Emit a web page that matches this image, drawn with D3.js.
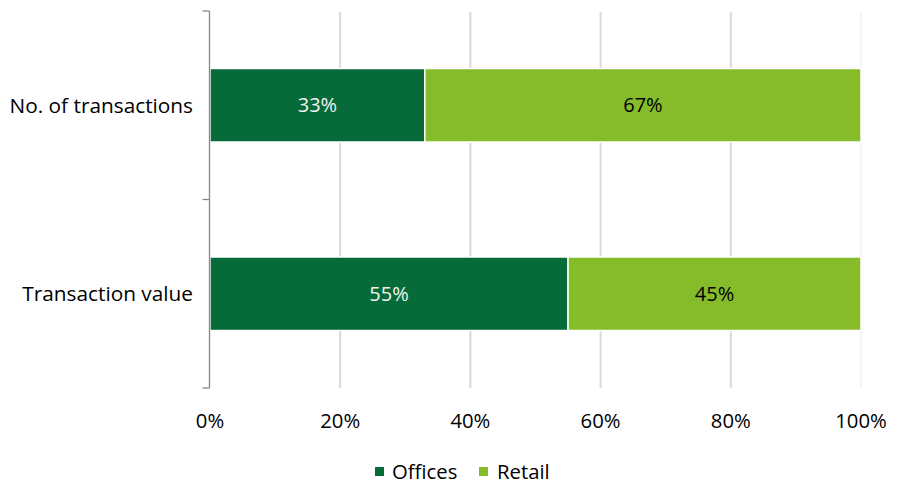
<!DOCTYPE html>
<html><head><meta charset="utf-8">
<script src="https://cdn.jsdelivr.net/npm/d3@7"></script>
<style>
body{margin:0;background:#fff;}
svg text{font-family:"Open Sans",sans-serif;}
</style></head>
<body><svg id="c" width="905" height="485"></svg>
<script>
const categories = ["No. of transactions", "Transaction value"];
const offices = [33, 55];
const retail = [67, 45];
const seriesNames = ["Offices", "Retail"];
const seriesColors = ["#076b39", "#86bc29"];
const labelColors = ["#f2f2f2", "#000000"];
const xTicks = [0, 20, 40, 60, 80, 100];

const svg = d3.select("#c");
const x = d3.scaleLinear().domain([0, 100]).range([210, 861]);
const y = d3.scaleBand().domain(categories).range([11, 388]).padding(0);
const barH = y.bandwidth() * 0.39;

// gridlines
svg.append("g").selectAll("line").data(xTicks.slice(1)).join("line")
  .attr("x1", d => x(d)).attr("x2", d => x(d))
  .attr("y1", 12).attr("y2", 388)
  .attr("stroke", "#d9d9d9").attr("stroke-width", 2)
  .attr("stroke-opacity", d => d === 100 ? 0.25 : 1);

// stacked data
const rows = categories.map((c, i) => ({cat: c, vals: [offices[i], retail[i]]}));
const segs = [];
rows.forEach(r => {
  let acc = 0;
  r.vals.forEach((v, k) => { segs.push({cat: r.cat, k, x0: acc, x1: acc + v, v}); acc += v; });
});

svg.append("g").selectAll("rect").data(segs).join("rect")
  .attr("x", d => x(d.x0)).attr("width", d => x(d.x1) - x(d.x0))
  .attr("y", d => y(d.cat) + y.bandwidth() / 2 - barH / 2).attr("height", barH)
  .attr("fill", d => seriesColors[d.k])
  .attr("stroke", "#ffffff").attr("stroke-width", 1.5);

svg.append("g").selectAll("text").data(segs).join("text")
  .attr("x", d => (x(d.x0) + x(d.x1)) / 2)
  .attr("y", d => y(d.cat) + y.bandwidth() / 2)
  .attr("dy", "0.35em").attr("text-anchor", "middle")
  .attr("font-size", 20).attr("fill", d => labelColors[d.k])
  .text(d => d.v + "%");

// y axis line and ticks
const yAxisX = 209.5;
svg.append("line").attr("x1", yAxisX).attr("x2", yAxisX).attr("y1", y.range()[0]).attr("y2", y.range()[1])
  .attr("stroke", "#868686").attr("stroke-width", 1.3);
const boundaries = categories.map(c => y(c)).concat([y.range()[1]]);
svg.append("g").selectAll("line").data(boundaries).join("line")
  .attr("x1", yAxisX - 7).attr("x2", yAxisX).attr("y1", d => d).attr("y2", d => d)
  .attr("stroke", "#868686").attr("stroke-width", 1.3);

// category labels
svg.append("g").selectAll("text").data(categories).join("text")
  .attr("x", 193).attr("y", d => y(d) + y.bandwidth() / 2)
  .attr("dy", "0.35em").attr("text-anchor", "end")
  .attr("font-size", 20.8).attr("fill", "#000")
  .text(d => d);

// x tick labels
svg.append("g").selectAll("text").data(xTicks).join("text")
  .attr("x", d => x(d)).attr("y", 428)
  .attr("text-anchor", "middle").attr("font-size", 20.3).attr("fill", "#000")
  .text(d => d + "%");

// legend
const leg = [{n: seriesNames[0], c: seriesColors[0], sx: 375, tx: 392}, {n: seriesNames[1], c: seriesColors[1], sx: 479, tx: 497}];
const lg = svg.append("g");
lg.selectAll("rect").data(leg).join("rect")
  .attr("x", d => d.sx).attr("y", 467).attr("width", 9).attr("height", 9).attr("fill", d => d.c);
lg.selectAll("text").data(leg).join("text")
  .attr("x", d => d.tx).attr("y", 471.5).attr("dy", "0.35em")
  .attr("font-size", 20.3).attr("fill", "#000").text(d => d.n);
</script></body></html>
